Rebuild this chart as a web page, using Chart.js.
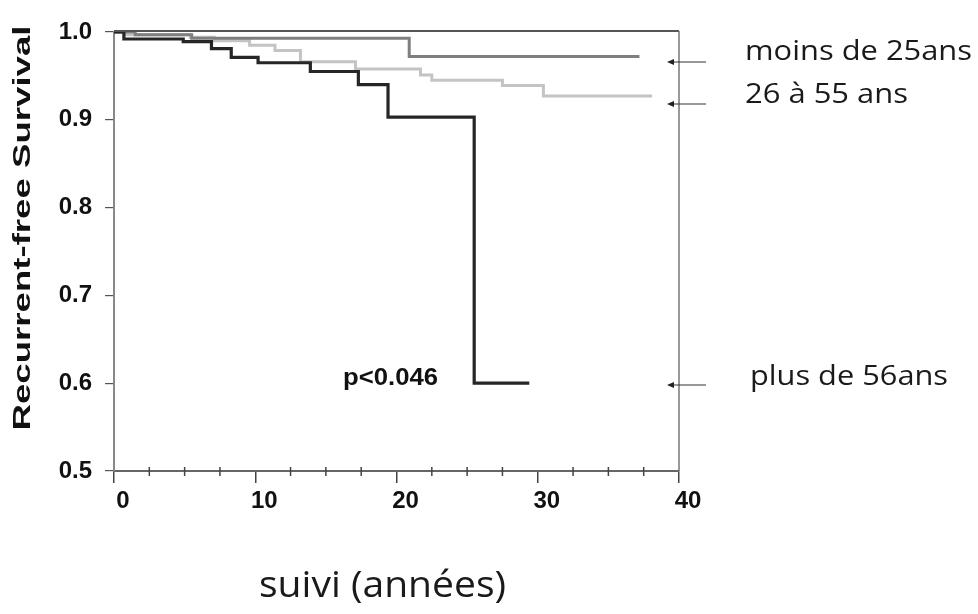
<!DOCTYPE html>
<html><head><meta charset="utf-8">
<script src="https://cdn.jsdelivr.net/npm/chart.js@4.4.1/dist/chart.umd.min.js"></script>
<style>html,body{margin:0;padding:0;background:#fff}#wrap{width:978px;height:614px;position:relative}</style>
</head><body><div id="wrap"><canvas id="c" width="978" height="614"></canvas></div>
<script>
// ---- data ----
const xTickValues = [0, 10, 20, 30, 40];
const yTickValues = [0.5, 0.6, 0.7, 0.8, 0.9, 1.0];
const groupLabels = ['moins de 25ans', '26 à 55 ans', 'plus de 56ans'];
const timeYoung = [0, 1.5, 5.5, 20.9, 37.2];
const survYoung = [1.0, 0.997, 0.993, 0.972, 0.972];
const timeMid = [0, 0.8, 5.4, 7.1, 9.6, 11.4, 13.2, 17.1, 21.7, 22.5, 27.5, 30.4, 38.1];
const survMid = [1.0, 0.997, 0.994, 0.990, 0.985, 0.979, 0.966, 0.958, 0.951, 0.945, 0.939, 0.927, 0.927];
const timeOld = [0, 0.7, 4.9, 6.9, 8.3, 10.2, 13.9, 17.3, 19.4, 25.5, 29.4];
const survOld = [1.0, 0.992, 0.989, 0.981, 0.971, 0.965, 0.955, 0.940, 0.903, 0.600, 0.600];
const pValueText = 'p<0.046';
const xTitle = 'suivi (années)';
const yTitle = 'Recurrent-free Survival';

const toPts = (t, s) => t.map((v, i) => ({x: v, y: s[i]}));
const BOLD = "'Liberation Sans', Arial, sans-serif";
const HUM = "'Open Sans', 'Noto Sans', sans-serif";

function fitText(ctx, text, x, yMid, font, width, color) {
  ctx.save();
  ctx.font = font; ctx.fillStyle = color; ctx.textBaseline = 'middle'; ctx.textAlign = 'left';
  const w = ctx.measureText(text).width;
  ctx.translate(x, yMid); ctx.scale(width / w, 1);
  ctx.fillText(text, 0, 0);
  ctx.restore();
}
function arrow(ctx, headX, y, endX) {
  ctx.save();
  ctx.strokeStyle = '#333'; ctx.fillStyle = '#222'; ctx.lineWidth = 1;
  ctx.beginPath(); ctx.moveTo(headX + 4, y); ctx.lineTo(endX, y); ctx.stroke();
  ctx.beginPath(); ctx.moveTo(headX, y); ctx.lineTo(headX + 7, y - 3); ctx.lineTo(headX + 7, y + 3); ctx.closePath(); ctx.fill();
  ctx.restore();
}

const decor = {
  id: 'decor',
  afterDraw(chart) {
    const ctx = chart.ctx, a = chart.chartArea, xs = chart.scales.x;
    ctx.save();
    ctx.strokeStyle = '#555'; ctx.lineWidth = 2;
    ctx.beginPath(); ctx.moveTo(a.left, a.top - 1); ctx.lineTo(a.right, a.top - 1); ctx.stroke();
    ctx.strokeStyle = '#777'; ctx.lineWidth = 1.5;
    ctx.beginPath(); ctx.moveTo(a.right, a.top - 1); ctx.lineTo(a.right, a.bottom); ctx.stroke();
    ctx.strokeStyle = '#444'; ctx.lineWidth = 1.5;
    xs.ticks.forEach(t => {
      if (t.value % 10 !== 0) {
        const px = xs.getPixelForValue(t.value);
        ctx.beginPath(); ctx.moveTo(px, a.bottom - 4); ctx.lineTo(px, a.bottom + 5); ctx.stroke();
      }
    });
    ctx.restore();
    arrow(ctx, 667, 62, 706);
    arrow(ctx, 667, 104, 706);
    arrow(ctx, 667, 385, 706);
    fitText(ctx, groupLabels[0], 745, 52, '27px ' + HUM, 227, '#1a1a1a');
    fitText(ctx, groupLabels[1], 745, 95, '27px ' + HUM, 163, '#1a1a1a');
    fitText(ctx, groupLabels[2], 750, 377, '27px ' + HUM, 198, '#1a1a1a');
    fitText(ctx, pValueText, 343, 378, 'bold 24px ' + BOLD, 95, '#111');
    fitText(ctx, xTitle, 259, 586, '37px ' + HUM, 247, '#1a1a1a');
    ctx.save();
    ctx.font = 'bold 24px ' + BOLD; ctx.fillStyle = '#111'; ctx.textAlign = 'center'; ctx.textBaseline = 'middle';
    const w = ctx.measureText(yTitle).width;
    ctx.translate(23, 228); ctx.rotate(-Math.PI / 2); ctx.scale(405 / w, 1);
    ctx.fillText(yTitle, 0, 0);
    ctx.restore();
  }
};

new Chart(document.getElementById('c'), {
  type: 'line',
  data: {
    datasets: [
      {label: groupLabels[2], data: toPts(timeOld, survOld), borderColor: '#262626', borderWidth: 3.2, stepped: 'before', pointRadius: 0, fill: false},
      {label: groupLabels[0], data: toPts(timeYoung, survYoung), borderColor: '#7f7f7f', borderWidth: 3, stepped: 'before', pointRadius: 0, fill: false},
      {label: groupLabels[1], data: toPts(timeMid, survMid), borderColor: '#c4c4c4', borderWidth: 3, stepped: 'before', pointRadius: 0, fill: false}
    ]
  },
  options: {
    responsive: false, animation: false, devicePixelRatio: 1,
    layout: {padding: {top: 32, right: 299, left: 0, bottom: 0}},
    plugins: {legend: {display: false}, tooltip: {enabled: false}, title: {display: false}},
    scales: {
      x: {
        type: 'linear', min: xTickValues[0], max: xTickValues[xTickValues.length - 1],
        afterFit: s => { s.height = 143; },
        afterBuildTicks: s => {
          const t = [];
          for (let v = xTickValues[0]; v <= xTickValues[xTickValues.length - 1] + 1e-9; v += 2.5) t.push({value: v});
          s.ticks = t;
        },
        ticks: {
          autoSkip: false, maxRotation: 0, labelOffset: 9, padding: 4, color: '#111',
          font: {family: BOLD, size: 24, weight: 'bold'},
          callback: v => (xTickValues.includes(v) ? String(v) : '')
        },
        grid: {
          drawOnChartArea: false, drawTicks: true, tickLength: 12, lineWidth: 1.5,
          color: c => (c.tick && c.tick.value % 10 === 0 ? '#444' : 'rgba(0,0,0,0)')
        },
        border: {display: true, color: '#666', width: 2}
      },
      y: {
        type: 'linear', min: yTickValues[0], max: yTickValues[yTickValues.length - 1],
        afterFit: s => { s.width = 114; },
        afterBuildTicks: s => { s.ticks = yTickValues.map(v => ({value: v})); },
        ticks: {
          padding: 13, color: '#111',
          font: {family: BOLD, size: 24, weight: 'bold'},
          callback: v => Number(v).toFixed(1)
        },
        grid: {drawOnChartArea: false, drawTicks: true, tickLength: 9, color: '#555', lineWidth: 1.2},
        border: {display: true, color: '#888', width: 2}
      }
    }
  },
  plugins: [decor]
});
</script></body></html>
